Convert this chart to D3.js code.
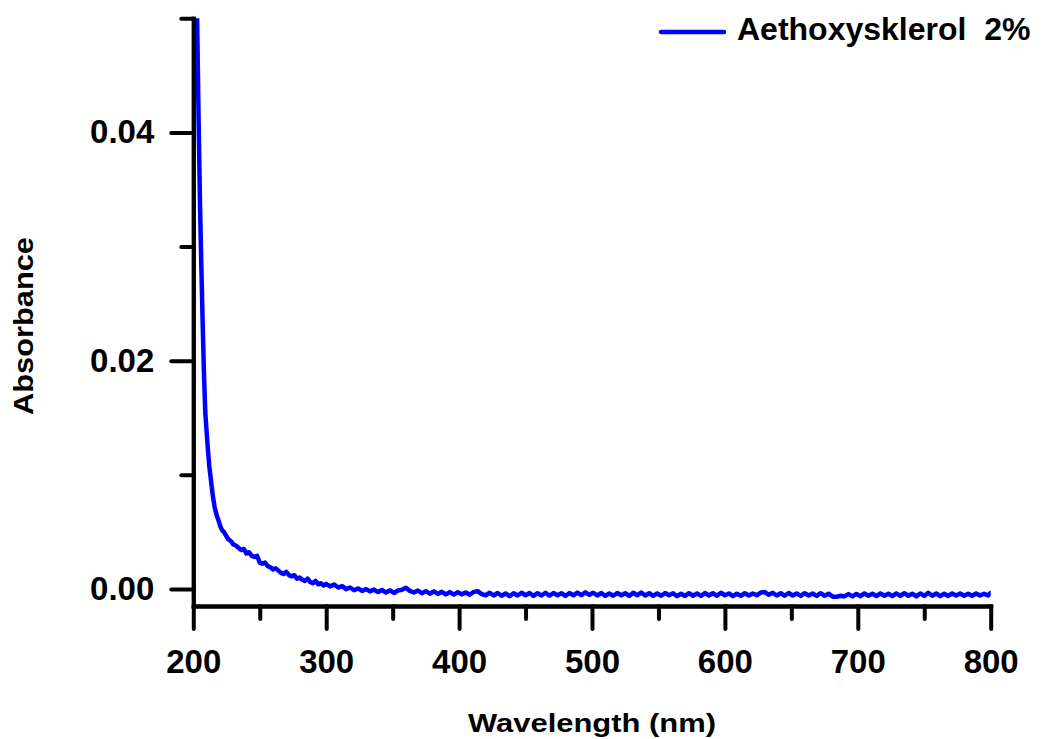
<!DOCTYPE html>
<html>
<head>
<meta charset="utf-8">
<script src="https://cdn.jsdelivr.net/npm/d3@7"></script>
<style>
  html, body { margin: 0; padding: 0; background: #fff; }
  svg { display: block; }
  text { font-family: "Liberation Sans", Arial, sans-serif; font-weight: bold; fill: #000; }
</style>
</head>
<body>
<svg id="chart" width="1042" height="739"></svg>
<script>
// ---------- data ----------
const seriesName = "Aethoxysklerol  2%";
const xLabel = "Wavelength (nm)";
const yLabel = "Absorbance";

const xMajorTicks = [200, 300, 400, 500, 600, 700, 800];
const xMinorTicks = [250, 350, 450, 550, 650, 750];
const yMajorTicks = [0.00, 0.02, 0.04];
const yMinorTicks = [0.01, 0.03, 0.05];

// 200..230 nm, 1 nm step
const wlStart = d3.range(200, 231, 1);
const absStart = [0.080, 0.068, 0.057, 0.049, 0.041, 0.034, 0.0285, 0.0235, 0.019, 0.0155,
  0.0138, 0.0122, 0.0108, 0.0098, 0.0088, 0.0079, 0.0072, 0.0067, 0.0063, 0.0060,
  0.0056, 0.0053, 0.0051, 0.0050, 0.0048, 0.0046, 0.0044, 0.0043, 0.0042, 0.0041, 0.0039];

// 232..298 nm, 2 nm step
const wlMid = d3.range(232, 299, 2);
const absMid = [0.0038, 0.0036, 0.0034, 0.0035, 0.0031, 0.0032, 0.0029, 0.0028, 0.0029, 0.0023,
  0.0022, 0.0023, 0.0020, 0.0019, 0.0017, 0.0018, 0.0016, 0.0014, 0.0013, 0.0015,
  0.0012, 0.0011, 0.0012, 0.0009, 0.0010, 0.0008, 0.0007, 0.0009, 0.0006, 0.0005,
  0.0007, 0.0004, 0.0005, 0.0003];

// 300..798 nm, 3 nm step, then 800
const wlTail = d3.range(300, 799, 3).concat([800]);
const absTail = [
  0.00044, 0.00022, 0.00038, 0.00012, 0.00024, -0.00002, 0.00012, -0.00012, 0.00004, -0.00018,
  -0.00002, -0.00022, -0.00006, -0.00028, -0.00010, -0.00032, -0.00012, -0.00036, -0.00014, -0.00008,
  0.00010, -0.00018, -0.00032, -0.00014, -0.00038, -0.00020, -0.00042, -0.00022, -0.00044, -0.00026,
  -0.00048, -0.00028, -0.00050, -0.00030, -0.00048, -0.00032, -0.00052, -0.00026, -0.00020, -0.00046,
  -0.00056, -0.00034, -0.00058, -0.00036, -0.00060, -0.00040, -0.00064, -0.00038, -0.00058, -0.00034,
  -0.00056, -0.00036, -0.00062, -0.00038, -0.00058, -0.00034, -0.00060, -0.00036, -0.00056, -0.00038,
  -0.00062, -0.00036, -0.00056, -0.00032, -0.00054, -0.00030, -0.00052, -0.00034, -0.00058, -0.00036,
  -0.00062, -0.00040, -0.00060, -0.00036, -0.00056, -0.00038, -0.00062, -0.00034, -0.00056, -0.00032,
  -0.00058, -0.00038, -0.00062, -0.00040, -0.00060, -0.00036, -0.00056, -0.00038, -0.00064, -0.00042,
  -0.00062, -0.00038, -0.00060, -0.00040, -0.00062, -0.00036, -0.00058, -0.00038, -0.00060, -0.00034,
  -0.00056, -0.00040, -0.00064, -0.00042, -0.00060, -0.00038, -0.00058, -0.00040, -0.00056, -0.00032,
  -0.00028, -0.00052, -0.00034, -0.00058, -0.00038, -0.00060, -0.00036, -0.00058, -0.00040, -0.00062,
  -0.00038, -0.00058, -0.00040, -0.00062, -0.00038, -0.00060, -0.00042, -0.00068, -0.00070, -0.00060,
  -0.00066, -0.00046, -0.00066, -0.00044, -0.00064, -0.00040, -0.00060, -0.00042, -0.00064, -0.00040,
  -0.00060, -0.00042, -0.00064, -0.00040, -0.00062, -0.00038, -0.00060, -0.00042, -0.00066, -0.00040,
  -0.00062, -0.00034, -0.00060, -0.00040, -0.00064, -0.00042, -0.00062, -0.00040, -0.00058, -0.00040,
  -0.00060, -0.00042, -0.00060, -0.00040, -0.00058, -0.00042, -0.00058,
  -0.00036];

const wavelengths = wlStart.concat(wlMid, wlTail);
const absorbance = absStart.concat(absMid, absTail);
const points = wavelengths.map((w, i) => ({ w, a: absorbance[i] }));

// ---------- layout ----------
const svg = d3.select("#chart");
const plot = { left: 193.3, right: 990.7, top: 18.3, bottom: 606 };

const x = d3.scaleLinear().domain([200, 800]).range([plot.left, plot.right]);
const y = d3.scaleLinear().domain([-0.0015, 0.05]).range([plot.bottom, plot.top]);

// clip
svg.append("defs").append("clipPath").attr("id", "clip")
  .append("rect")
  .attr("x", plot.left).attr("y", plot.top)
  .attr("width", plot.right - plot.left).attr("height", plot.bottom - plot.top);

// curve
const line = d3.line().x(d => x(d.w)).y(d => y(d.a));
svg.append("path")
  .datum(points)
  .attr("clip-path", "url(#clip)")
  .attr("d", line)
  .attr("fill", "none")
  .attr("stroke", "#0000ff")
  .attr("stroke-width", 4.5)
  .attr("stroke-linejoin", "round")
  .attr("stroke-linecap", "round");

function styleAxis(g) {
  g.selectAll("path.domain").attr("stroke", "#000").attr("stroke-width", 4).attr("stroke-linecap", "square");
  g.selectAll(".tick line").attr("stroke", "#000").attr("stroke-width", 4).attr("stroke-linecap", "round");
  g.selectAll(".tick text").style("font-size", "33px").style("font-family", "'Liberation Sans', Arial, sans-serif").style("font-weight", "bold").attr("fill", "#000");
}

// x axis minor
svg.append("g")
  .attr("transform", `translate(0,${plot.bottom})`)
  .call(d3.axisBottom(x).tickValues(xMinorTicks).tickSize(13).tickSizeOuter(0).tickFormat(""))
  .call(styleAxis);
// x axis major
svg.append("g")
  .attr("transform", `translate(0,${plot.bottom})`)
  .call(d3.axisBottom(x).tickValues(xMajorTicks).tickSize(23).tickSizeOuter(0).tickPadding(21).tickFormat(d3.format("d")))
  .call(styleAxis);

// y axis minor
svg.append("g")
  .attr("transform", `translate(${plot.left},0)`)
  .call(d3.axisLeft(y).tickValues(yMinorTicks).tickSize(12).tickSizeOuter(0).tickFormat(""))
  .call(styleAxis);
// y axis major
svg.append("g")
  .attr("transform", `translate(${plot.left},0)`)
  .call(d3.axisLeft(y).tickValues(yMajorTicks).tickSize(22).tickSizeOuter(0).tickPadding(17).tickFormat(d3.format(".2f")))
  .call(styleAxis);

// axis titles
svg.append("text")
  .attr("x", (plot.left + plot.right) / 2)
  .attr("y", 732)
  .attr("text-anchor", "middle")
  .attr("textLength", 248)
  .attr("lengthAdjust", "spacingAndGlyphs")
  .style("font-size", "25px")
  .text(xLabel);

svg.append("text")
  .attr("transform", "translate(33,326) rotate(-90)")
  .attr("text-anchor", "middle")
  .attr("textLength", 178)
  .attr("lengthAdjust", "spacingAndGlyphs")
  .style("font-size", "28px")
  .text(yLabel);

// legend
const legend = svg.append("g");
legend.append("line")
  .attr("x1", 661).attr("x2", 724).attr("y1", 32).attr("y2", 32)
  .attr("stroke", "#0000ff").attr("stroke-width", 4.5).attr("stroke-linecap", "round");
legend.append("text")
  .attr("x", 737).attr("y", 40)
  .attr("xml:space", "preserve")
  .style("white-space", "pre")
  .style("font-size", "32px")
  .text(seriesName);
</script>
</body>
</html>
